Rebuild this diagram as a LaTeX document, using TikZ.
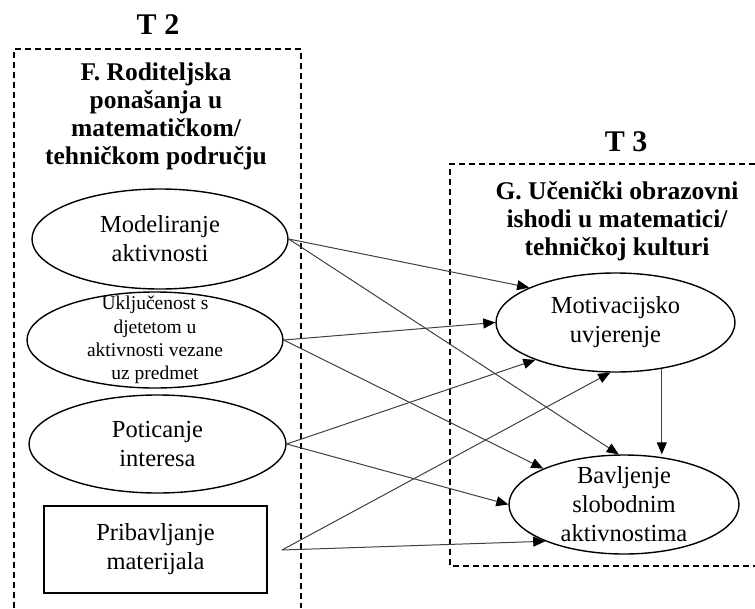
\documentclass[tikz,border=0pt]{standalone}
\usepackage{fontspec}
\setmainfont{Liberation Serif}
\usepackage{tikz}
\usetikzlibrary{shapes.geometric,arrows.meta}

\begin{document}
\begin{tikzpicture}[
        x=1pt, y=-1pt,
        latent/.style={draw, ellipse, line width=1.4pt, inner sep=-12pt, minimum width=256pt, minimum height=98pt, align=center, font=\fontsize{24.5}{29}\selectfont},
        observed/.style={draw, rectangle, line width=1.4pt, inner sep=0pt, minimum width=223pt, minimum height=87pt, align=center, font=\fontsize{24.5}{29}\selectfont},
        hdr/.style={align=center, font=\bfseries\fontsize{25.5}{28}\selectfont},
        wave/.style={font=\bfseries\fontsize{30}{34}\selectfont},
        grp/.style={line width=1.5pt, dash pattern=on 6pt off 4pt},
        lnk/.style={draw=black!75, line width=1pt, -{Triangle[length=12pt,width=10pt,color=black]}}
        ]
        \useasboundingbox (0,0) rectangle (755,608);

        % T2 group
        \draw[grp] (14,608) -- (14,49) -- (301,49) -- (301,608);
        \node[wave] (tdva) at (158,25) {T 2};
        \node[hdr] (grpF) at (156,116) {F. Roditeljska\\ ponašanja u\\ matematičkom/\\ tehničkom području};
        \node[latent, minimum height=100pt] (mod) at (160,239) {Modeliranje\\ aktivnosti};
        \node[latent, minimum height=96pt, font=\fontsize{19.5}{23.3}\selectfont] (ukl) at (155,340) {Uključenost s\\ djetetom u\\ aktivnosti vezane\\ uz predmet};
        \node[latent, minimum width=257pt] (pot) at (157.5,444) {Poticanje\\ interesa};
        \node[observed] (prib) at (155.5,549.5) {Pribavljanje\\ materijala};
        \coordinate (pribout) at (282,550);

        % T3 group
        \draw[grp] (755,164) -- (450,164) -- (450,566) -- (755,566);
        \node[wave] (ttri) at (626,142) {T 3};
        \node[hdr] (grpG) at (617,221) {G. Učenički obrazovni\\ ishodi u matematici/\\ tehničkoj kulturi};
        \node[latent, minimum width=239pt, minimum height=99pt] (mot) at (615.5,322.5) {Motivacijsko\\ uvjerenje};
        \node[latent, minimum width=230pt, minimum height=99pt] (bav) at (624,504.5) {Bavljenje\\ slobodnim\\ aktivnostima};

        % paths
        \draw[lnk] (mod.east) -- (mot.158);
        \draw[lnk] (mod.east) -- (bav.96);
        \draw[lnk] (ukl.east) -- (mot.west);
        \draw[lnk] (ukl.east) -- (bav.156);
        \draw[lnk] (pot.east) -- (mot.205);
        \draw[lnk] (pot.east) -- (bav.west);
        \draw[lnk] (pribout) -- (mot.264);
        \draw[lnk] (pribout) -- (bav.205);
        \draw[lnk] (mot.315) -- (mot.315 |- bav.north);
    \end{tikzpicture}
\end{document}
